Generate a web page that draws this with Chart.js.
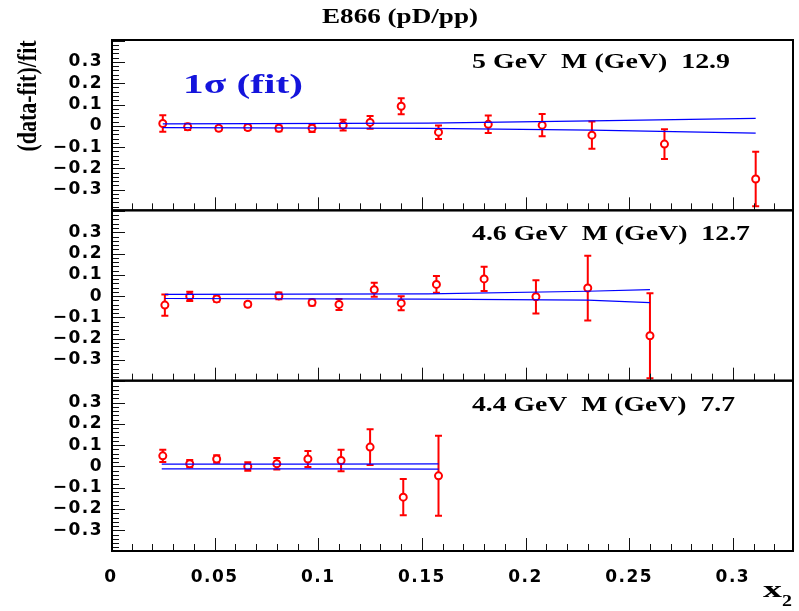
<!DOCTYPE html>
<html>
<head>
<meta charset="utf-8">
<script src="https://cdn.jsdelivr.net/npm/chart.js@4"></script>
<style>
  html, body { margin: 0; padding: 0; background: #fff; }
  #wrap { width: 799px; height: 611px; }
</style>
</head>
<body>
<div id="wrap"><canvas id="c"></canvas></div>
<script>
// asse x e tick
const xTicks = [0, 0.05, 0.1, 0.15, 0.2, 0.25, 0.3];
const yTicks = [-0.3, -0.2, -0.1, 0, 0.1, 0.2, 0.3];

// pannello 1: 5 GeV, M 12.9
const x1 = [0.025, 0.037, 0.052, 0.066, 0.081, 0.097, 0.112, 0.125, 0.140, 0.158, 0.182, 0.208, 0.232, 0.267, 0.311];
const y1 = [0.011, -0.005, -0.012, -0.008, -0.012, -0.011, 0.003, 0.016, 0.092, -0.030, 0.007, 0.003, -0.044, -0.086, -0.250];
const e1 = [0.039, 0.015, 0.010, 0.012, 0.013, 0.018, 0.025, 0.030, 0.038, 0.032, 0.041, 0.052, 0.064, 0.070, 0.128];
const fitX1 = [0.025, 0.153, 0.232, 0.311];
const fitUp1 = [0.009, 0.013, 0.023, 0.035];
const fitLo1 = [-0.009, -0.012, -0.020, -0.034];

// pannello 2: 4.6 GeV, M 12.7
const x2 = [0.026, 0.038, 0.051, 0.066, 0.081, 0.097, 0.110, 0.127, 0.140, 0.157, 0.180, 0.205, 0.230, 0.260];
const y2 = [-0.042, -0.001, -0.013, -0.038, 0.001, -0.030, -0.039, 0.030, -0.033, 0.055, 0.081, -0.003, 0.038, -0.186];
const e2 = [0.050, 0.022, 0.013, 0.011, 0.016, 0.014, 0.026, 0.033, 0.033, 0.039, 0.057, 0.078, 0.152, 0.200];
const fitX2 = [0.026, 0.153, 0.230, 0.260];
const fitUp2 = [0.008, 0.011, 0.023, 0.031];
const fitLo2 = [-0.011, -0.014, -0.019, -0.030];

// pannello 3: 4.4 GeV, M 7.7
const x3 = [0.025, 0.038, 0.051, 0.066, 0.080, 0.095, 0.111, 0.125, 0.141, 0.158];
const y3 = [0.050, 0.013, 0.035, 0.000, 0.013, 0.035, 0.028, 0.091, -0.144, -0.044];
const e3 = [0.029, 0.017, 0.018, 0.020, 0.027, 0.038, 0.050, 0.084, 0.085, 0.188];
const fitX3 = [0.0245, 0.100, 0.158];
const fitUp3 = [0.011, 0.011, 0.012];
const fitLo3 = [-0.011, -0.011, -0.012];

const panelLabels = ['5 GeV  M (GeV)  12.9', '4.6 GeV  M (GeV)  12.7', '4.4 GeV  M (GeV)  7.7'];

const RED = '#ff0000';
const BLUE = '#0000ff';

function pts(xs, ys) {
    return xs.map((x, i) => ({ x: x, y: ys[i] }));
}

function dataSet(xs, ys, es, axis) {
    return {
        data: pts(xs, ys), err: es, yAxisID: axis, order: 2,
        showLine: false, pointRadius: 3.5, pointBorderWidth: 2,
        pointBorderColor: RED, pointBackgroundColor: '#fff'
    };
}

function fitLine(xs, ys, axis) {
    return {
        data: pts(xs, ys), yAxisID: axis, order: 1,
        showLine: true, pointRadius: 0, borderColor: BLUE, borderWidth: 1.2,
        backgroundColor: BLUE
    };
}

function yScale() {
    return {
        type: 'linear', position: 'left', stack: 'pan', stackWeight: 1,
        min: -0.397, max: 0.403,
        grid: { display: false, drawTicks: false },
        border: { display: false },
        afterBuildTicks: s => { s.ticks = yTicks.map(v => ({ value: v })); },
        afterFit: s => { s.width = 112; },
        ticks: {
            color: '#000', padding: 9, autoSkip: false,
            font: { family: 'DejaVu Sans', weight: 'bold', size: 17 },
            callback: v => v === 0 ? '0' : (v < 0 ? '\u2212' : '') + Math.abs(v).toFixed(1)
        }
    };
}

// testo allungato in orizzontale, come nell'originale
function stretchText(ctx, txt, x, y, font, w, color) {
    ctx.save();
    ctx.font = font;
    ctx.fillStyle = color;
    ctx.textBaseline = 'alphabetic';
    const m = ctx.measureText(txt).width;
    ctx.translate(x, y);
    ctx.scale(w / m, 1);
    ctx.fillText(txt, 0, 0);
    ctx.restore();
}

const decor = {
    id: 'decor',
    beforeDraw(chart) {
        chart.ctx.letterSpacing = '1.5px';
    },
    beforeDatasetsDraw(chart) {
        const ctx = chart.ctx;
        ctx.letterSpacing = '0px';
        // barre d'errore
        ctx.save();
        ctx.strokeStyle = RED;
        ctx.lineWidth = 2;
        chart.data.datasets.forEach((ds, i) => {
            if (!ds.err) return;
            const ys = chart.scales[ds.yAxisID];
            const meta = chart.getDatasetMeta(i);
            meta.data.forEach((p, j) => {
                const v = ds.data[j].y;
                let top = ys.getPixelForValue(v + ds.err[j]);
                let bot = ys.getPixelForValue(v - ds.err[j]);
                const capT = top >= ys.top, capB = bot <= ys.bottom;
                top = Math.max(top, ys.top);
                bot = Math.min(bot, ys.bottom);
                ctx.beginPath();
                ctx.moveTo(p.x, top); ctx.lineTo(p.x, bot);
                if (capT) { ctx.moveTo(p.x - 3.5, top); ctx.lineTo(p.x + 3.5, top); }
                if (capB) { ctx.moveTo(p.x - 3.5, bot); ctx.lineTo(p.x + 3.5, bot); }
                ctx.stroke();
            });
        });
        ctx.restore();
    },
    afterDraw(chart) {
        const ctx = chart.ctx;
        const xs = chart.scales.x;
        const a = chart.chartArea;
        ctx.save();
        ctx.letterSpacing = '0px';
        ['p1', 'p2', 'p3'].forEach(id => {
            const ys = chart.scales[id];
            ctx.strokeStyle = '#111';
            ctx.lineWidth = 1;
            ctx.beginPath();
            // tacche interne asse x (solo in basso)
            for (let k = 0; k <= 32; k++) {
                const px = Math.round(xs.getPixelForValue(k / 100)) + 0.5;
                const len = k % 5 === 0 ? 13 : 7;
                ctx.moveTo(px, ys.bottom);
                ctx.lineTo(px, ys.bottom - len);
            }
            // tacche interne asse y
            for (let k = -19; k <= 20; k++) {
                const py = Math.round(ys.getPixelForValue(k / 50)) + 0.5;
                const len = k % 5 === 0 ? 13 : 7;
                ctx.moveTo(a.left, py);
                ctx.lineTo(a.left + len, py);
            }
            ctx.stroke();
            ctx.strokeStyle = '#000';
            ctx.lineWidth = 2;
            ctx.strokeRect(a.left, ys.top, a.right - a.left, ys.bottom - ys.top);
        });
        ctx.restore();

        const f20 = 'bold 20px "Liberation Serif"';
        stretchText(ctx, 'E866 (pD/pp)', 322, 23, f20, 156, '#000');
        stretchText(ctx, '1\u03c3 (fit)', 183, 93, 'bold 28px "Liberation Serif"', 120, '#1414dc');
        stretchText(ctx, panelLabels[0], 472, 68, f20, 258, '#000');
        stretchText(ctx, panelLabels[1], 472, 240, f20, 278, '#000');
        stretchText(ctx, panelLabels[2], 472, 411, f20, 263, '#000');
        // titolo asse y, ruotato
        ctx.save();
        ctx.font = 'bold 22px "Liberation Serif"';
        ctx.fillStyle = '#000';
        ctx.translate(36, 96);
        ctx.scale(1.25, 1);
        ctx.rotate(-Math.PI / 2);
        ctx.textAlign = 'center';
        ctx.fillText('(data-fit)/fit', 0, 0);
        ctx.restore();
        // x con pedice 2
        stretchText(ctx, 'x', 763, 597, 'bold 24px "Liberation Serif"', 19, '#000');
        stretchText(ctx, '2', 782, 606, 'bold 16px "Liberation Serif"', 10, '#000');
    }
};

function drawChart() {
    new Chart(document.getElementById('c'), {
        type: 'scatter',
        data: {
            datasets: [
                fitLine(fitX1, fitUp1, 'p1'), fitLine(fitX1, fitLo1, 'p1'),
                fitLine(fitX2, fitUp2, 'p2'), fitLine(fitX2, fitLo2, 'p2'),
                fitLine(fitX3, fitUp3, 'p3'), fitLine(fitX3, fitLo3, 'p3'),
                dataSet(x1, y1, e1, 'p1'),
                dataSet(x2, y2, e2, 'p2'),
                dataSet(x3, y3, e3, 'p3')
            ]
        },
        options: {
            responsive: true,
            maintainAspectRatio: false,
            animation: false,
            layout: { padding: { top: 40, right: 4, bottom: 0, left: 0 } },
            plugins: { legend: { display: false }, tooltip: { enabled: false } },
            scales: {
                x: {
                    type: 'linear', position: 'bottom', min: 0.0005, max: 0.329,
                    grid: { display: false, drawTicks: false },
                    border: { display: false },
                    afterBuildTicks: s => { s.ticks = xTicks.map(v => ({ value: v })); },
                    afterFit: s => { s.height = 60; },
                    ticks: {
                        color: '#000', padding: 16, maxRotation: 0, autoSkip: false,
                        font: { family: 'DejaVu Sans', weight: 'bold', size: 17 },
                        callback: v => String(v)
                    }
                },
                // nello stack a sinistra l'ultimo asse finisce in alto
                p3: yScale(),
                p2: yScale(),
                p1: yScale()
            }
        },
        plugins: [decor]
    });
}

window.onload = drawChart;
</script>
</body>
</html>
